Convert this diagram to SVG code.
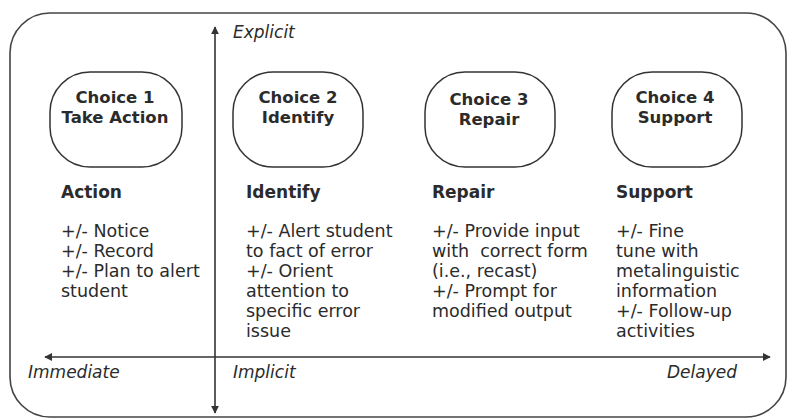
<svg xmlns="http://www.w3.org/2000/svg" width="790" height="420" viewBox="0 0 790 420">
<defs>
<marker id="ah" viewBox="0 0 10 10" refX="9" refY="5" markerWidth="8" markerHeight="8" markerUnits="userSpaceOnUse" orient="auto-start-reverse">
<path d="M0,0 L10,5 L0,10 Z" fill="#333"/>
</marker>
</defs>
<style>
.frame{fill:#fff;stroke:#444;stroke-width:1.6}
.box{fill:#fff;stroke:#333;stroke-width:1.5}
.axis{stroke:#333;stroke-width:1.6;fill:none}
.t{font-family:"DejaVu Sans","Verdana",sans-serif;fill:#2b2b2b}
.b{font-weight:bold;font-size:17px}
.bc{font-weight:bold;font-size:16.5px;text-anchor:middle}
.r{font-size:17.5px;white-space:pre}
.i{font-style:italic;font-size:17px}
</style>
<rect class="frame" x="10" y="13" width="776" height="404" rx="40" ry="40"/>
<g id="axes">
<line class="axis" x1="215" y1="413" x2="215" y2="27" marker-end="url(#ah)" marker-start="url(#ah)"/>
<line class="axis" x1="45" y1="357" x2="770" y2="357" marker-end="url(#ah)" marker-start="url(#ah)"/>
<text class="t i" x="233" y="38">Explicit</text>
<text class="t i" x="28" y="378">Immediate</text>
<text class="t i" x="233" y="378">Implicit</text>
<text class="t i" x="737" y="378" text-anchor="end">Delayed</text>
</g>
<g id="choice1">
<rect class="box" x="50" y="72" width="132" height="95" rx="40" ry="40"/>
<text class="t bc" x="115" y="103">Choice 1</text>
<text class="t bc" x="115" y="123">Take Action</text>
</g>
<g id="choice2">
<rect class="box" x="233" y="72" width="130" height="95" rx="40" ry="40"/>
<text class="t bc" x="298" y="103">Choice 2</text>
<text class="t bc" x="298" y="123">Identify</text>
</g>
<g id="choice3">
<rect class="box" x="425" y="72" width="130" height="95" rx="40" ry="40"/>
<text class="t bc" x="489" y="105">Choice 3</text>
<text class="t bc" x="489" y="125">Repair</text>
</g>
<g id="choice4">
<rect class="box" x="612" y="72" width="130" height="95" rx="40" ry="40"/>
<text class="t bc" x="675" y="103">Choice 4</text>
<text class="t bc" x="675" y="123">Support</text>
</g>
<g id="col1">
<text class="t b" x="61" y="198">Action</text>
<text class="t r" x="61" y="237">+/- Notice</text>
<text class="t r" x="61" y="257">+/- Record</text>
<text class="t r" x="61" y="277">+/- Plan to alert</text>
<text class="t r" x="61" y="297">student</text>
</g>
<g id="col2">
<text class="t b" x="246" y="198">Identify</text>
<text class="t r" x="246" y="237">+/- Alert student</text>
<text class="t r" x="246" y="257">to fact of error</text>
<text class="t r" x="246" y="277">+/- Orient</text>
<text class="t r" x="246" y="297">attention to</text>
<text class="t r" x="246" y="317">specific error</text>
<text class="t r" x="246" y="337">issue</text>
</g>
<g id="col3">
<text class="t b" x="432" y="198">Repair</text>
<text class="t r" x="432" y="237">+/- Provide input</text>
<text class="t r" x="432" y="257">with  correct form</text>
<text class="t r" x="432" y="277">(i.e., recast)</text>
<text class="t r" x="432" y="297">+/- Prompt for</text>
<text class="t r" x="432" y="317">modified output</text>
</g>
<g id="col4">
<text class="t b" x="616" y="198">Support</text>
<text class="t r" x="616" y="237">+/- Fine</text>
<text class="t r" x="616" y="257">tune with</text>
<text class="t r" x="616" y="277">metalinguistic</text>
<text class="t r" x="616" y="297">information</text>
<text class="t r" x="616" y="317">+/- Follow-up</text>
<text class="t r" x="616" y="337">activities</text>
</g>
</svg>
